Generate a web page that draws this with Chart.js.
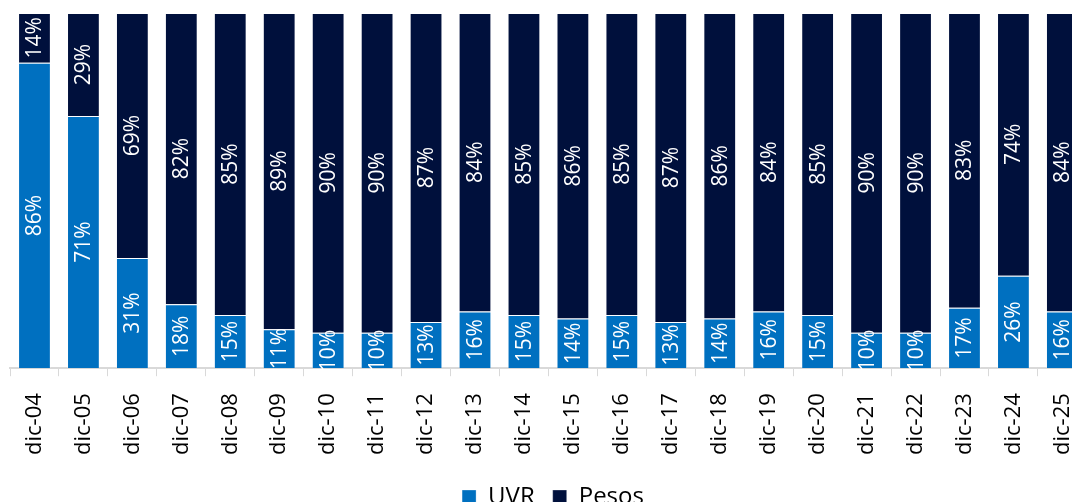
<!DOCTYPE html>
<html>
<head>
<meta charset="utf-8">
<script src="https://cdn.jsdelivr.net/npm/chart.js@4.4.1/dist/chart.umd.min.js"></script>
<style>
  html, body { margin: 0; padding: 0; background: #fff; overflow: hidden; }
  #wrap { width: 1106px; height: 519px; position: relative; }
</style>
</head>
<body>
<div id="wrap"><canvas id="barChart"></canvas></div>
<script>
var labels = ['dic-04', 'dic-05', 'dic-06', 'dic-07', 'dic-08', 'dic-09', 'dic-10', 'dic-11',
  'dic-12', 'dic-13', 'dic-14', 'dic-15', 'dic-16', 'dic-17', 'dic-18', 'dic-19',
  'dic-20', 'dic-21', 'dic-22', 'dic-23', 'dic-24', 'dic-25'];
var uvr = [86, 71, 31, 18, 15, 11, 10, 10, 13, 16, 15, 14, 15, 13, 14, 16, 15, 10, 10, 17, 26, 16];
var pesos = [14, 29, 69, 82, 85, 89, 90, 90, 87, 84, 85, 86, 85, 87, 86, 84, 85, 90, 90, 83, 74, 84];

var fontFamily = "'Open Sans', 'DejaVu Sans', sans-serif";

// draws the % value rotated inside every bar segment
var barLabels = {
  id: 'barLabels',
  afterDatasetsDraw: function(chart) {
    var ctx = chart.ctx;
    ctx.save();
    ctx.fillStyle = '#ffffff';
    ctx.font = '21px ' + fontFamily;
    ctx.textAlign = 'center';
    ctx.textBaseline = 'middle';
    chart.data.datasets.forEach(function(ds, i) {
      var meta = chart.getDatasetMeta(i);
      meta.data.forEach(function(bar, j) {
        var mid = (bar.y + bar.base) / 2;
        ctx.save();
        ctx.translate(bar.x, mid);
        ctx.rotate(-Math.PI / 2);
        ctx.fillText(ds.data[j] + '%', 0, 1);
        ctx.restore();
      });
    });
    ctx.restore();
  }
};

var ctxBar = document.getElementById('barChart');
new Chart(ctxBar, {
  type: 'bar',
  data: {
    labels: labels,
    datasets: [
      {
        label: 'UVR',
        data: uvr,
        backgroundColor: '#0070c0',
        borderColor: 'rgba(255,255,255,0.3)',
        borderWidth: 1
      },
      {
        label: 'Pesos',
        data: pesos,
        backgroundColor: '#00103c',
        borderColor: 'rgba(255,255,255,0.3)',
        borderWidth: 1
      }
    ]
  },
  options: {
    responsive: true,
    maintainAspectRatio: false,
    animation: false,
    layout: { padding: { top: 13, left: 10, right: 10, bottom: 0 } },
    datasets: {
      bar: { categoryPercentage: 1, barPercentage: 0.67 }
    },
    scales: {
      x: {
        stacked: true,
        afterFit: function(scale) { scale.height -= 5; },
        grid: {
          offset: true,
          drawOnChartArea: false,
          drawTicks: true,
          tickLength: 8,
          color: '#d9d9d9'
        },
        border: { color: '#d9d9d9', width: 2 },
        ticks: {
          color: '#000',
          font: { family: fontFamily, size: 22 },
          minRotation: 90,
          maxRotation: 90,
          padding: 17,
          autoSkip: false
        }
      },
      y: {
        stacked: true,
        display: false,
        min: 0,
        max: 100
      }
    },
    plugins: {
      legend: {
        position: 'bottom',
        labels: {
          boxWidth: 14,
          boxHeight: 14,
          color: '#000',
          padding: 18,
          font: { family: fontFamily, size: 24 }
        }
      },
      tooltip: { enabled: false }
    }
  },
  plugins: [barLabels]
});
</script>
</body>
</html>
